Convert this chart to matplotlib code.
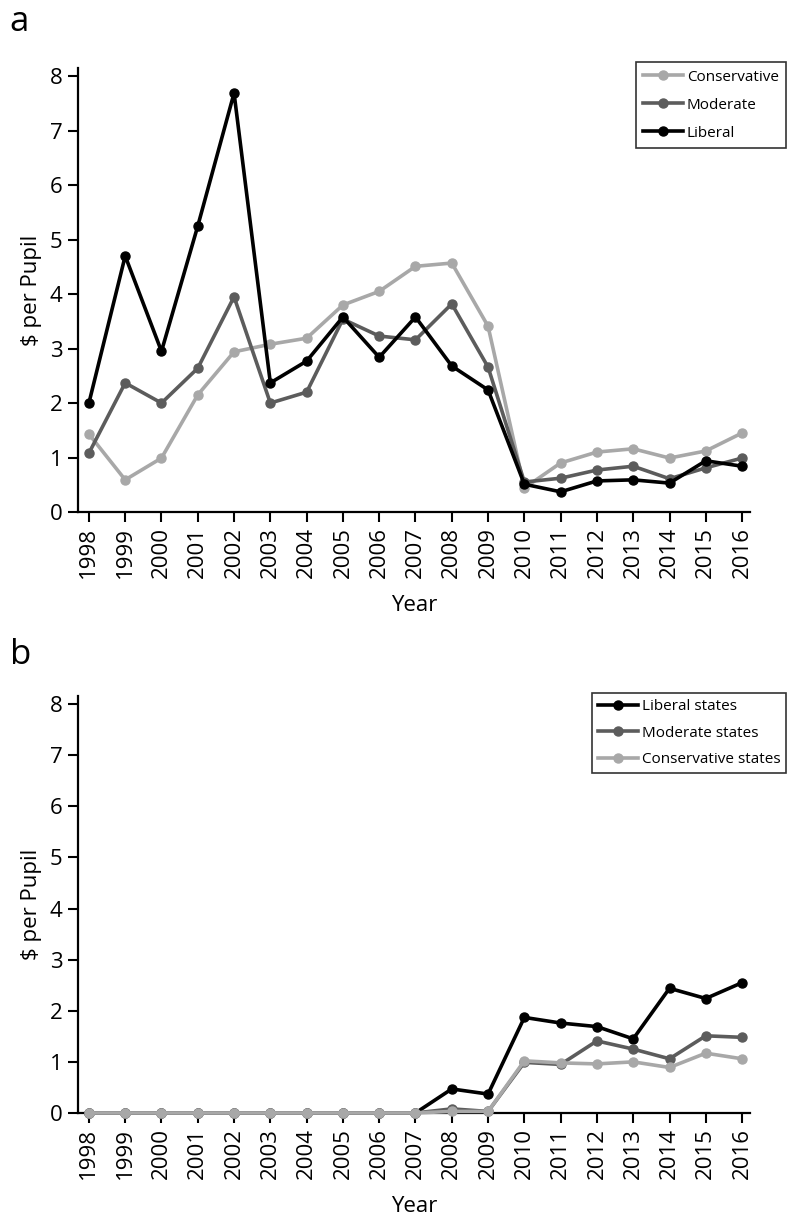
import matplotlib
matplotlib.use("Agg")
import matplotlib.pyplot as plt

plt.rcParams['font.family'] = ['Open Sans', 'DejaVu Sans']

years = list(range(1998, 2017))

# Panel a
a_conservative = [1.43, 0.59, 0.99, 2.15, 2.94, 3.08, 3.19, 3.80, 4.05, 4.51, 4.57, 3.41, 0.44, 0.90, 1.10, 1.16, 0.99, 1.12, 1.45]
a_moderate = [1.08, 2.37, 2.00, 2.64, 3.95, 2.00, 2.20, 3.54, 3.23, 3.16, 3.82, 2.66, 0.55, 0.62, 0.77, 0.84, 0.61, 0.81, 0.99]
a_liberal = [2.00, 4.70, 2.95, 5.25, 7.69, 2.37, 2.77, 3.58, 2.84, 3.58, 2.68, 2.24, 0.51, 0.37, 0.57, 0.59, 0.53, 0.94, 0.84]

# Panel b
b_liberal = [0, 0, 0, 0, 0, 0, 0, 0, 0, 0, 0.47, 0.37, 1.87, 1.76, 1.69, 1.45, 2.44, 2.24, 2.55]
b_moderate = [0, 0, 0, 0, 0, 0, 0, 0, 0, 0, 0.08, 0.03, 0.99, 0.95, 1.41, 1.25, 1.06, 1.51, 1.48]
b_conservative = [0, 0, 0, 0, 0, 0, 0, 0, 0, 0, 0.03, 0.03, 1.02, 0.98, 0.96, 1.00, 0.89, 1.17, 1.06]

C_CONS = '#a8a8a8'
C_MOD = '#5c5c5c'
C_LIB = '#000000'

fig = plt.figure(figsize=(7.97, 12.26), dpi=100)
ax_a = fig.add_axes([0.0979, 0.5824, 0.8432, 0.3621])
ax_b = fig.add_axes([0.0979, 0.0922, 0.8432, 0.3401])

lw = 2.6
ms = 6.5
TICK_FS = 16


def style(ax, ytop):
    ax.set_xlim(1997.7, 2016.22)
    ax.set_ylim(0, ytop)
    ax.set_xticks(years)
    ax.set_xticklabels([str(y) for y in years], rotation=90, fontsize=TICK_FS)
    ax.set_yticks(range(0, 9))
    ax.tick_params(axis='y', labelsize=TICK_FS)
    ax.tick_params(direction='out', length=7, width=1.5, color='black', pad=4)
    for s in ['top', 'right']:
        ax.spines[s].set_visible(False)
    for s in ['left', 'bottom']:
        ax.spines[s].set_linewidth(1.6)
    ax.set_xlabel('Year', fontsize=16, labelpad=12)
    ax.set_ylabel('$ per Pupil', fontsize=16, labelpad=6)


ax_a.plot(years, a_conservative, '-o', color=C_CONS, lw=lw, ms=ms, label='Conservative', clip_on=False, zorder=3)
ax_a.plot(years, a_moderate, '-o', color=C_MOD, lw=lw, ms=ms, label='Moderate', clip_on=False, zorder=4)
ax_a.plot(years, a_liberal, '-o', color=C_LIB, lw=lw, ms=ms, label='Liberal', clip_on=False, zorder=5)
style(ax_a, 8.15)
leg = ax_a.legend(loc='upper right', bbox_to_anchor=(1.054, 1.0135), fontsize=11, frameon=True, fancybox=False,
                  edgecolor='black', handlelength=2.6, labelspacing=0.85, borderpad=0.5, handletextpad=0.25,
                  borderaxespad=0)
leg.get_frame().set_linewidth(1.2)

ax_b.plot(years, b_liberal, '-o', color=C_LIB, lw=lw, ms=ms, label='Liberal states', clip_on=False, zorder=3)
ax_b.plot(years, b_moderate, '-o', color=C_MOD, lw=lw, ms=ms, label='Moderate states', clip_on=False, zorder=4)
ax_b.plot(years, b_conservative, '-o', color=C_CONS, lw=lw, ms=ms, label='Conservative states', clip_on=False, zorder=5)
style(ax_b, 8.16)
leg = ax_b.legend(loc='upper right', bbox_to_anchor=(1.054, 1.007), fontsize=11, frameon=True, fancybox=False,
                  edgecolor='black', handlelength=2.6, labelspacing=0.75, borderpad=0.4, handletextpad=0.25,
                  borderaxespad=0)
leg.get_frame().set_linewidth(1.2)

fig.text(0.012, 0.982, 'a', fontsize=25, va='center', ha='left')
fig.text(0.012, 0.466, 'b', fontsize=25, va='center', ha='left')

fig.savefig('out.png', dpi=100)
